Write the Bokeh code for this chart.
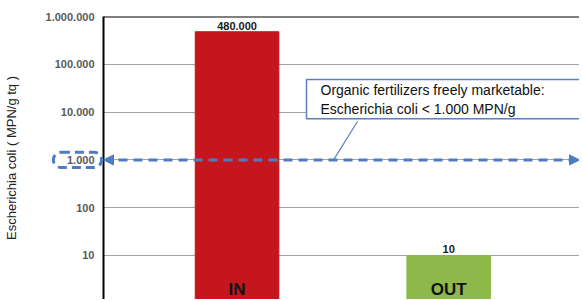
from bokeh.plotting import figure
from bokeh.models import (Range1d, FixedTicker, Label, LabelSet, Arrow, NormalHead, Span,
                          ColumnDataSource)
from bokeh.embed import file_html
from bokeh.resources import INLINE
from bokeh.core.properties import value

categories = ["IN", "OUT"]
ecoli = [480000, 10]
bar_colors = ["#c5161d", "#8db84a"]
value_labels = ["480.000", "10"]
tick_values = [1, 10, 100, 1000, 10000, 100000, 1000000]
tick_labels = ["1", "10", "100", "1.000", "10.000", "100.000", "1.000.000"]
threshold = 1000
note = "Organic fertilizers freely marketable:\nEscherichia coli < 1.000 MPN/g"

FONT = value("Liberation Sans")
FONT_S = "Liberation Sans"
BLUE = "#4f7cc0"

xs = list(range(len(categories)))
x_start, x_end = -0.631, 1.618
y_start, y_end = 1.2, 1000000

p = figure(width=579, height=299, x_range=Range1d(x_start, x_end),
           y_range=Range1d(y_start, y_end), y_axis_type="log",
           output_backend="svg", toolbar_location=None,
           min_border_left=101, min_border_top=16, min_border_bottom=0, min_border_right=0)
p.outline_line_color = None
p.background_fill_color = "white"
p.border_fill_color = "white"
p.xaxis.visible = False
p.xgrid.visible = False
p.ygrid.ticker = FixedTicker(ticks=tick_values)
p.ygrid.grid_line_color = "#a3a3a3"
p.ygrid.grid_line_width = 1

ax = p.yaxis[0]
ax.ticker = FixedTicker(ticks=tick_values)
ax.major_label_overrides = {v: t for v, t in zip(tick_values, tick_labels)}
ax.major_label_text_font = FONT_S
ax.major_label_text_font_size = "11px"
ax.major_label_text_font_style = "bold"
ax.major_label_text_color = "#5a5a5a"
ax.major_label_standoff = 9
ax.major_tick_out = 0
ax.major_tick_in = 0
ax.minor_tick_line_color = None
ax.axis_line_color = "black"
ax.axis_line_width = 2
ax.axis_label = "Escherichia coli ( MPN/g tq )"
ax.axis_label_text_font = FONT_S
ax.axis_label_text_font_size = "13px"
ax.axis_label_text_font_style = "normal"
ax.axis_label_text_color = "#222222"
ax.axis_label_standoff = 24

# top border
p.add_layout(Span(location=y_end, dimension="width", line_color="black", line_width=2))

src = ColumnDataSource(dict(x=xs, top=ecoli, color=bar_colors, lab=value_labels, cat=categories,
                            base=[y_start] * len(xs)))
p.vbar(x="x", top="top", bottom=0.1, width=0.395, color="color", source=src)

p.add_layout(LabelSet(x="x", y="top", text="lab", source=src, y_offset=2,
                      text_align="center", text_baseline="bottom",
                      text_font=FONT, text_font_size="11px", text_font_style="bold",
                      text_color="#1a1a1a"))
p.add_layout(LabelSet(x="x", y="base", text="cat", source=src, y_offset=5,
                      text_align="center", text_baseline="alphabetic",
                      text_font=FONT, text_font_size="17px", text_font_style="bold",
                      text_color="#111111"))

# threshold dashed double arrow
p.add_layout(Arrow(x_start=x_start, x_end=x_end, y_start=threshold, y_end=threshold,
                   line_color=BLUE, line_width=3, line_dash="9 6",
                   start=NormalHead(size=10, fill_color=BLUE, line_color=BLUE),
                   end=NormalHead(size=10, fill_color=BLUE, line_color=BLUE)))

# dashed ring around the 1.000 tick label; kept in a side panel so it is not clipped to the frame
p.add_layout(Label(x=x_start, y=threshold, x_offset=-26, text="\u00a0",
                   text_align="center", text_baseline="middle",
                   text_font=FONT_S, text_font_size="1px", text_color="#5a5a5a",
                   border_line_color=BLUE, border_line_width=3, border_line_dash="9 5",
                   border_radius=8, padding=dict(left=24, right=24, top=7, bottom=7)), "above")

# leader line
p.add_layout(Arrow(x_start=0.456, y_start=threshold, x_end=0.569, y_end=6350,
                   line_color="#5d7fba", line_width=1.2, end=None))

# note box
p.add_layout(Label(x=203, y=220, x_units="screen", y_units="screen", text=note,
                   text_align="left", text_baseline="top",
                   text_font=FONT_S, text_font_size="14px", text_color="#111111",
                   background_fill_color="white",
                   border_line_color="#5d7fba", border_line_width=1.5,
                   padding=dict(left=14, right=42, top=2, bottom=2)))

open("out.html", "w").write(file_html(p, INLINE))
